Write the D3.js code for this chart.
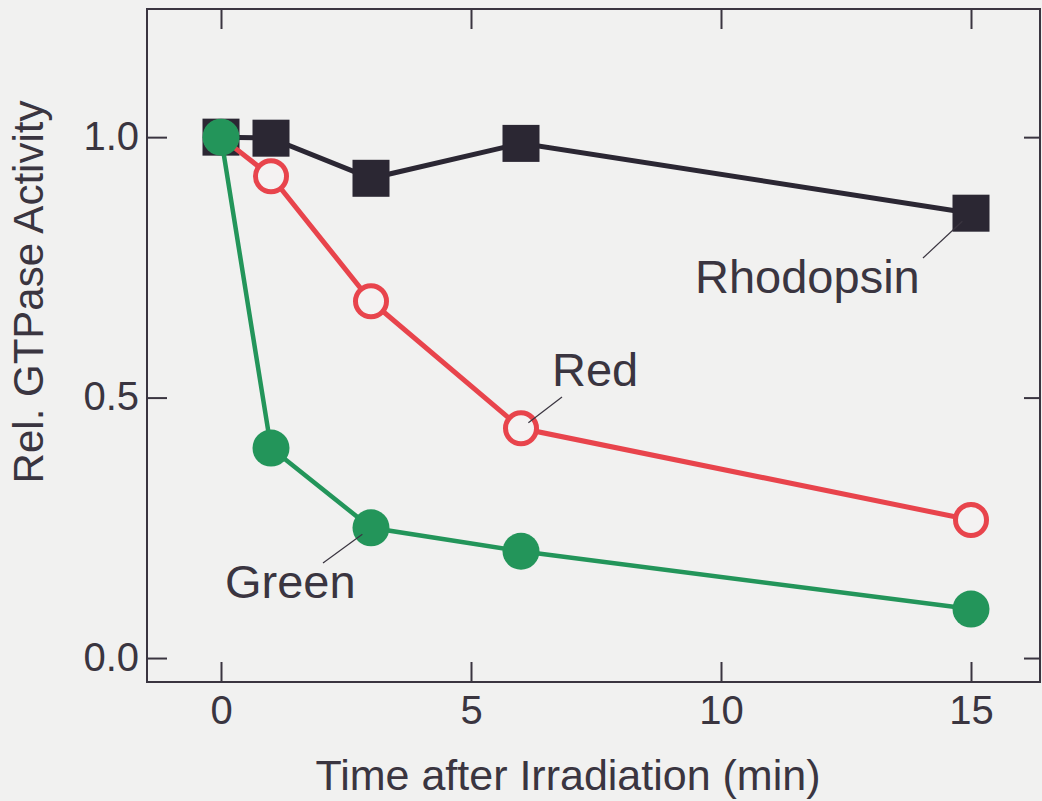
<!DOCTYPE html>
<html><head><meta charset="utf-8">
<script src="https://cdn.jsdelivr.net/npm/d3@7"></script>
<style>
html,body{margin:0;padding:0;background:#f1f1f0;}
svg{display:block;}
text{font-family:"Liberation Sans",Arial,Helvetica,sans-serif;fill:#3a3540;}
</style></head>
<body>
<script>
const times = [0, 1, 3, 6, 15];
const rhodopsin = [1.0, 0.998, 0.921, 0.988, 0.854];
const red = [1.0, 0.925, 0.685, 0.441, 0.265];
const green = [1.0, 0.403, 0.25, 0.205, 0.094];
const xTicks = [0, 5, 10, 15];
const yTicks = [0.0, 0.5, 1.0];
const labels = [
  {name: "Rhodopsin", series: "rhodopsin", idx: 4},
  {name: "Red", series: "red", idx: 3},
  {name: "Green", series: "green", idx: 2}
];

(function () {
const W = 1042, H = 801;
const svg = d3.select("body").append("svg").attr("width", W).attr("height", H);
const ink = "#3a3540";

const x = d3.scaleLinear().domain([-1.48, 16.38]).range([147, 1040]);
const y = d3.scaleLinear().domain([-0.046, 1.246]).range([682, 9]);

svg.append("rect").attr("x", 147).attr("y", 9).attr("width", 1040 - 147).attr("height", 682 - 9)
  .attr("fill", "none").attr("stroke", ink).attr("stroke-width", 2);

const gBottom = svg.append("g").attr("transform", "translate(0,682)")
  .call(d3.axisBottom(x).tickValues(xTicks).tickSize(-20).tickFormat(d3.format("d")));
const gTop = svg.append("g").attr("transform", "translate(0,9)")
  .call(d3.axisTop(x).tickValues(xTicks).tickSize(-20).tickFormat(""));
const gLeft = svg.append("g").attr("transform", "translate(147,0)")
  .call(d3.axisLeft(y).tickValues(yTicks).tickSize(-20).tickPadding(8).tickFormat(d3.format(".1f")));
const gRight = svg.append("g").attr("transform", "translate(1040,0)")
  .call(d3.axisRight(y).tickValues(yTicks).tickSize(-16).tickFormat(""));
[gBottom, gTop, gLeft, gRight].forEach(g => {
  g.select(".domain").remove();
  g.selectAll(".tick line").attr("stroke", ink).attr("stroke-width", 2);
  g.selectAll("text").attr("fill", ink).style("font-family", "Liberation Sans, Arial, sans-serif");
});
gLeft.selectAll("text").attr("font-size", 40).attr("dy", "0.3em");
gBottom.selectAll("text").attr("font-size", 40).attr("dy", 0).attr("y", 42);

svg.append("text").attr("x", 568).attr("y", 790).attr("text-anchor", "middle")
  .attr("font-size", 43).text("Time after Irradiation (min)");
svg.append("text").attr("transform", "translate(43,292) rotate(-90)").attr("text-anchor", "middle")
  .attr("font-size", 42).text("Rel. GTPase Activity");

const line = d3.line().x(d => x(d[0])).y(d => y(d[1]));
const pts = arr => times.map((t, i) => [t, arr[i]]);
const seriesMap = {rhodopsin, red, green};
const labelPos = {
  rhodopsin: {tx: 695, ty: 293, lx: 923, ly: 258},
  red: {tx: 552, ty: 386, lx: 562, ly: 397},
  green: {tx: 225, ty: 598, lx: 323, ly: 563}
};

svg.append("path").datum(pts(rhodopsin)).attr("d", line).attr("fill", "none")
  .attr("stroke", "#2b2733").attr("stroke-width", 5);
svg.selectAll(".sq").data(pts(rhodopsin)).join("rect")
  .attr("x", d => x(d[0]) - 18.5).attr("y", d => y(d[1]) - 18.5)
  .attr("width", 37).attr("height", 37).attr("fill", "#2b2733");

svg.append("path").datum(pts(red)).attr("d", line).attr("fill", "none")
  .attr("stroke", "#e8444c").attr("stroke-width", 5);
svg.selectAll(".rc").data(pts(red)).join("circle")
  .attr("cx", d => x(d[0])).attr("cy", d => y(d[1])).attr("r", 15.5)
  .attr("fill", "#f4f2f2").attr("stroke", "#e8444c").attr("stroke-width", 5);

svg.append("path").datum(pts(green)).attr("d", line).attr("fill", "none")
  .attr("stroke", "#23955a").attr("stroke-width", 4.5);
svg.selectAll(".gc").data(pts(green)).join("circle")
  .attr("cx", d => x(d[0])).attr("cy", d => y(d[1])).attr("r", 18.5)
  .attr("fill", "#23955a");

labels.forEach(l => {
  const p = labelPos[l.series];
  const px = x(times[l.idx]), py = y(seriesMap[l.series][l.idx]);
  const ex = p.lx + (px - p.lx) * 0.82, ey = p.ly + (py - p.ly) * 0.82;
  svg.append("line").attr("x1", p.lx).attr("y1", p.ly).attr("x2", ex).attr("y2", ey)
    .attr("stroke", ink).attr("stroke-width", 1.2);
  svg.append("text").attr("x", p.tx).attr("y", p.ty).attr("font-size", 47).text(l.name);
});
})();
</script>
</body></html>
